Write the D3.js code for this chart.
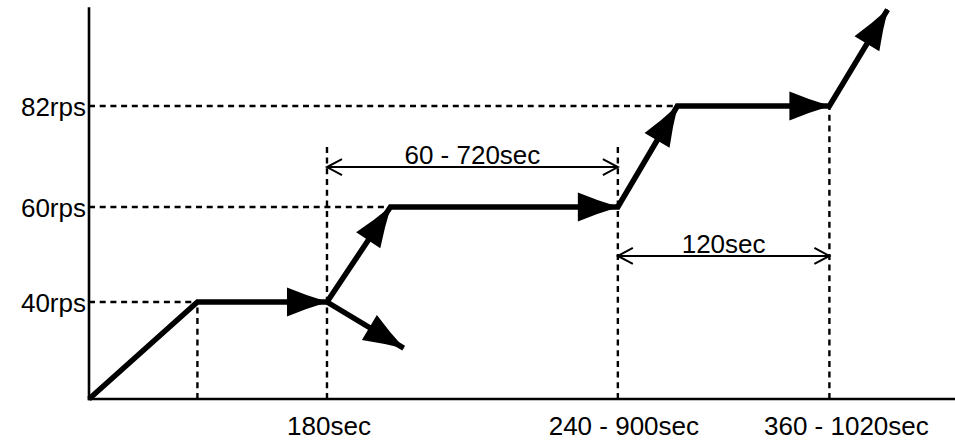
<!DOCTYPE html>
<html>
<head>
<meta charset="utf-8">
<script src="https://cdn.jsdelivr.net/npm/d3@7"></script>
<style>
  body { margin: 0; background: #fff; overflow: hidden; }
  svg { display: block; }
  text { font-family: "Liberation Sans", Arial, sans-serif; fill: #000; }
</style>
</head>
<body>
<div id="chart"></div>
<script>
// Schematic values (time in sec units of the drawing, load in rps)
const rpsLevels = [40, 60, 82]
const rpsLabels = ["40rps", "60rps", "82rps"]
const timeTicks = [180, 400, 560]
const timeLabels = ["180sec", "240 - 900sec", "360 - 1020sec"]

// main load path
const loadPath = [
  {t: 0, rps: 0}, {t: 82, rps: 40}, {t: 180, rps: 40}, {t: 228, rps: 60},
  {t: 400, rps: 60}, {t: 445, rps: 82}, {t: 560, rps: 82}, {t: 604, rps: 103}
]
// branch going down after 180sec
const dropPath = [{t: 180, rps: 40}, {t: 238, rps: 21}]

// guides: vertical dashed (t, from rps, to rps), horizontal dashed (rps, to t)
const vGuides = [[82, 0, 40], [180, 0, 73.2], [400, 0, 73.6], [560, 0, 82]]
const hGuides = [[40, 82], [60, 228], [82, 445]]

// dimension arrows
const spans = [
  {from: 180, to: 400, rps: 68.7, label: "60 - 720sec"},
  {from: 400, to: 560, rps: 49.7, label: "120sec"}
]

const W = 955, H = 441
const svg = d3.select("#chart").append("svg")
  .attr("width", W).attr("height", H)

const x = d3.scaleLinear().domain([0, 655]).range([89, 955])
const y = d3.scaleLinear().domain([0, 40, 60, 82]).range([399, 302, 207, 106])

// dashed guides
svg.append("g").selectAll("line.v")
  .data(vGuides).enter().append("line")
    .attr("x1", d => x(d[0])).attr("x2", d => x(d[0]))
    .attr("y1", d => y(d[1])).attr("y2", d => y(d[2]))
    .attr("stroke", "#000").attr("stroke-width", 2.4)
    .attr("stroke-dasharray", "6,4.7")
svg.append("g").selectAll("line.h")
  .data(hGuides).enter().append("line")
    .attr("x1", x(0)).attr("x2", d => x(d[1]))
    .attr("y1", d => y(d[0])).attr("y2", d => y(d[0]))
    .attr("stroke", "#000").attr("stroke-width", 2.4)
    .attr("stroke-dasharray", "6,4.7")

// axes
const yAxis = d3.axisLeft(y).tickValues(rpsLevels).tickSize(0).tickPadding(3)
  .tickFormat((d, i) => rpsLabels[i])
const yg = svg.append("g").attr("transform", "translate(" + x(0) + ",0)").call(yAxis)
yg.select(".domain").remove()
yg.selectAll("text").attr("font-size", 26).attr("font-family", null).attr("dy", "0.35em")

svg.append("line")
  .attr("x1", x(0)).attr("x2", x(0)).attr("y1", y(103.5)).attr("y2", y(0) + 1.2)
  .attr("stroke", "#000").attr("stroke-width", 2.6)
svg.append("line")
  .attr("x1", x(0) - 1.2).attr("x2", x(655)).attr("y1", y(0)).attr("y2", y(0))
  .attr("stroke", "#000").attr("stroke-width", 2.6)

const labelShift = [2, 6, 17]
svg.append("g").selectAll("text.xl")
  .data(timeTicks).enter().append("text")
    .attr("x", (d, i) => x(d) + labelShift[i])
    .attr("y", 435)
    .attr("font-size", 26)
    .attr("text-anchor", "middle")
    .text((d, i) => timeLabels[i])

// thick load lines
const line = d3.line().x(d => x(d.t)).y(d => y(d.rps))
svg.append("path").datum(loadPath).attr("d", line)
  .attr("fill", "none").attr("stroke", "#000").attr("stroke-width", 5.5)
  .attr("stroke-linejoin", "miter")
svg.append("path").datum(dropPath).attr("d", line)
  .attr("fill", "none").attr("stroke", "#000").attr("stroke-width", 5.5)

// filled arrowheads at the end of each segment (except the first ramp)
const heads = []
for (let i = 2; i < loadPath.length; i++) heads.push([loadPath[i - 1], loadPath[i]])
heads.push([dropPath[0], dropPath[1]])
const headShape = "M1,0 Q-20,-6.2 -40,-14.5 L-40,14.5 Q-20,6.2 1,0 Z"
svg.append("g").selectAll("path.head")
  .data(heads).enter().append("path")
    .attr("d", headShape)
    .attr("fill", "#000")
    .attr("transform", d => {
      const x0 = x(d[0].t), y0 = y(d[0].rps), x1 = x(d[1].t), y1 = y(d[1].rps)
      const a = Math.atan2(y1 - y0, x1 - x0) * 180 / Math.PI
      return "translate(" + x1 + "," + y1 + ") rotate(" + a + ")"
    })

// dimension arrows with open heads
const dims = svg.append("g")
spans.forEach(s => {
  const x0 = x(s.from), x1 = x(s.to), yy = y(s.rps)
  dims.append("line")
    .attr("x1", x0).attr("x2", x1).attr("y1", yy).attr("y2", yy)
    .attr("stroke", "#000").attr("stroke-width", 2)
  dims.append("path")
    .attr("d", "M" + (x0 + 15) + "," + (yy - 8) + " L" + x0 + "," + yy + " L" + (x0 + 15) + "," + (yy + 8))
    .attr("fill", "none").attr("stroke", "#000").attr("stroke-width", 2)
  dims.append("path")
    .attr("d", "M" + (x1 - 15) + "," + (yy - 8) + " L" + x1 + "," + yy + " L" + (x1 - 15) + "," + (yy + 8))
    .attr("fill", "none").attr("stroke", "#000").attr("stroke-width", 2)
  dims.append("text")
    .attr("x", (x0 + x1) / 2).attr("y", yy - 3)
    .attr("font-size", 26).attr("text-anchor", "middle")
    .text(s.label)
})
</script>
</body>
</html>
